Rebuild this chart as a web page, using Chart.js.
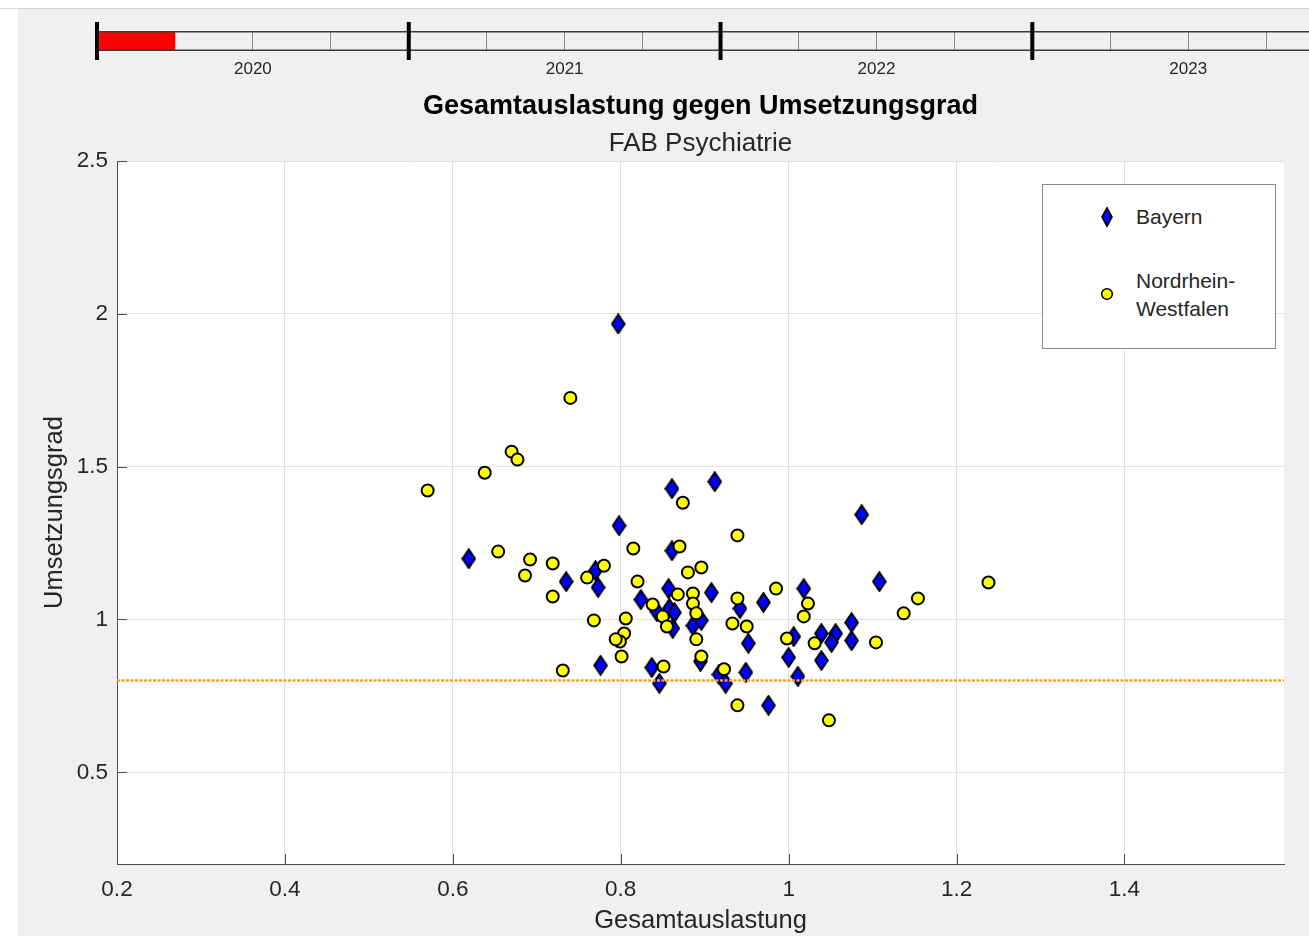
<!DOCTYPE html>
<html lang="de">
<head>
<meta charset="utf-8">
<title>Gesamtauslastung gegen Umsetzungsgrad</title>
<script src="https://cdn.jsdelivr.net/npm/chart.js"></script>
<style>
  html, body { margin: 0; padding: 0; }
  body { width: 1309px; height: 936px; background: #f0f0f0; position: relative; overflow: hidden; font-family: "Liberation Sans", Arial, sans-serif; }
  #topStrip { position: absolute; left: 0; top: 0; width: 1309px; height: 8px; background: #fff; border-bottom: 1px solid #d4d4d4; }
  #leftStrip { position: absolute; left: 0; top: 9px; width: 18px; height: 927px; background: #fff; }
  #mainChart { position: absolute; left: 0; top: 0; z-index: 1; }
  #timeline { position: absolute; left: 0; top: 0; z-index: 2; }
  #legend { position: absolute; left: 1042px; top: 184px; width: 232px; height: 163px; background: #fff; border: 1px solid #8c8c8c; z-index: 3; color: #262626; font-size: 21px; }
  #legend svg { position: absolute; }
  #legend span { position: absolute; left: 93px; line-height: 28px; }
</style>
</head>
<body>
<div id="topStrip"></div>
<div id="leftStrip"></div>
<canvas id="mainChart" width="1309" height="936"></canvas>
<canvas id="timeline" width="1309" height="80"></canvas>
<div id="legend">
  <svg width="16" height="22" style="left:56px; top:21px"><polygon points="8,2 13,11 8,20 3,11" fill="#0000ff" stroke="#000" stroke-width="1.6"/></svg>
  <span style="top:18px">Bayern</span>
  <svg width="16" height="16" style="left:56px; top:101px"><circle cx="8" cy="8" r="5.3" fill="#ffff00" stroke="#000" stroke-width="1.6"/></svg>
  <span style="top:82px">Nordrhein-<br>Westfalen</span>
</div>

<script>
// Daten
const bayernX = [0.797, 0.619, 0.735, 0.770, 0.773, 0.798, 0.861, 0.912, 0.861, 0.857,
                 0.824, 0.858, 0.843, 0.864, 0.862, 0.886, 0.896, 0.908, 0.776, 0.837,
                 0.846, 0.895, 0.917, 0.925, 0.942, 0.970, 0.952, 0.949, 0.976, 1.018,
                 1.006, 1.000, 1.011, 1.039, 1.056, 1.051, 1.039, 1.075, 1.075, 1.087,
                 1.108];
const bayernY = [1.967, 1.199, 1.124, 1.160, 1.105, 1.307, 1.428, 1.451, 1.225, 1.101,
                 1.065, 1.036, 1.026, 1.023, 0.971, 0.980, 0.997, 1.088, 0.850, 0.843,
                 0.791, 0.863, 0.820, 0.791, 1.036, 1.056, 0.922, 0.827, 0.719, 1.101,
                 0.944, 0.876, 0.814, 0.954, 0.954, 0.925, 0.866, 0.990, 0.931, 1.343,
                 1.124];

const nrwX = [0.570, 0.638, 0.670, 0.677, 0.740, 0.654, 0.692, 0.686, 0.719, 0.719,
              0.760, 0.780, 0.815, 0.820, 0.874, 0.870, 0.880, 0.896, 0.868, 0.886,
              0.886, 0.890, 0.838, 0.850, 0.855, 0.768, 0.806, 0.804, 0.799, 0.794,
              0.801, 0.731, 0.851, 0.890, 0.896, 0.923, 0.939, 0.933, 0.939, 0.939,
              0.985, 0.950, 0.998, 1.023, 1.018, 1.031, 1.104, 1.048, 1.137, 1.154,
              1.238];
const nrwY = [1.422, 1.480, 1.549, 1.523, 1.725, 1.222, 1.196, 1.144, 1.183, 1.075,
              1.137, 1.176, 1.232, 1.124, 1.382, 1.239, 1.154, 1.170, 1.082, 1.085,
              1.052, 1.020, 1.049, 1.010, 0.977, 0.997, 1.003, 0.954, 0.928, 0.935,
              0.879, 0.833, 0.846, 0.935, 0.879, 0.837, 1.275, 0.987, 1.069, 0.719,
              1.101, 0.977, 0.938, 1.052, 1.010, 0.922, 0.925, 0.670, 1.020, 1.069,
              1.121];

const schwelle = 0.8;
const xRange = [0.2, 1.59];
const yRange = [0.2, 2.5];
const xTicks = [0.2, 0.4, 0.6, 0.8, 1.0, 1.2, 1.4];
const yTicks = [0.5, 1.0, 1.5, 2.0, 2.5];

// Zeitleiste oben (Quartale)
const years = ['2020', '2021', '2022', '2023'];
const quarterTicks = [0, 1, 2, 3, 4, 5, 6, 7, 8, 9, 10, 11, 12, 13, 14, 15];
const yearBounds = [0, 4, 8, 12];
const progress = [0, 1];
const quarterMax = 15.55;

const FONT = '"Liberation Sans", Arial, sans-serif';
const AXIS_COLOR = '#4d4d4d';
const TEXT_COLOR = '#262626';

document.addEventListener('DOMContentLoaded', () => {

  // Raute wie in MATLAB (hoeher als breit)
  const diamond = document.createElement('canvas');
  diamond.width = 15;
  diamond.height = 21;
  const dctx = diamond.getContext('2d');
  dctx.beginPath();
  dctx.moveTo(7.5, 1.2);
  dctx.lineTo(13.8, 10.5);
  dctx.lineTo(7.5, 19.8);
  dctx.lineTo(1.2, 10.5);
  dctx.closePath();
  dctx.fillStyle = '#0000ff';
  dctx.fill();
  dctx.lineWidth = 2;
  dctx.strokeStyle = '#000';
  dctx.stroke();

  // weisser Plotbereich + Tickmarken nach innen
  const plotArea = {
    id: 'plotArea',
    beforeDraw(chart) {
      const { ctx, chartArea: a } = chart;
      ctx.save();
      ctx.fillStyle = '#fff';
      ctx.fillRect(a.left, a.top, a.right - a.left, a.bottom - a.top);
      ctx.restore();
    },
    beforeDatasetsDraw(chart) {
      const { ctx, chartArea: a, scales } = chart;
      ctx.save();
      ctx.strokeStyle = AXIS_COLOR;
      ctx.lineWidth = 1;
      ctx.beginPath();
      xTicks.forEach(v => {
        const px = Math.round(scales.x.getPixelForValue(v)) + 0.5;
        ctx.moveTo(px, a.bottom);
        ctx.lineTo(px, a.bottom - 10);
      });
      yTicks.forEach(v => {
        const py = Math.round(scales.y.getPixelForValue(v)) + 0.5;
        ctx.moveTo(a.left, py);
        ctx.lineTo(a.left + 10, py);
      });
      ctx.stroke();
      ctx.restore();
    }
  };

  const mainChart = new Chart(document.getElementById('mainChart'), {
    data: {
      datasets: [
        {
          type: 'scatter',
          label: 'Bayern',
          data: bayernX.map((x, i) => ({ x: x, y: bayernY[i] })),
          pointStyle: diamond,
          order: 2
        },
        {
          type: 'scatter',
          label: 'Nordrhein-Westfalen',
          data: nrwX.map((x, i) => ({ x: x, y: nrwY[i] })),
          pointStyle: 'circle',
          pointRadius: 6,
          pointBackgroundColor: '#ffff00',
          pointBorderColor: '#000',
          pointBorderWidth: 2,
          order: 1
        },
        {
          type: 'line',
          label: 'Schwelle',
          data: [{ x: xRange[0], y: schwelle }, { x: xRange[1], y: schwelle }],
          borderColor: '#ffa01e',
          borderWidth: 2.5,
          borderDash: [3, 1.5],
          pointRadius: 0,
          order: 0
        }
      ]
    },
    options: {
      responsive: false,
      animation: false,
      events: [],
      layout: { padding: { left: 0, right: 25, top: 90.8, bottom: 0 } },
      plugins: {
        legend: { display: false },
        tooltip: { enabled: false },
        title: {
          display: true,
          fullSize: false,
          text: 'Gesamtauslastung gegen Umsetzungsgrad',
          color: '#000',
          font: { family: FONT, size: 27, weight: 'bold' },
          padding: { top: 0, bottom: 5 }
        },
        subtitle: {
          display: true,
          fullSize: false,
          text: 'FAB Psychiatrie',
          color: TEXT_COLOR,
          font: { family: FONT, size: 26 },
          padding: { top: 0, bottom: 1.6 }
        }
      },
      scales: {
        x: {
          type: 'linear',
          min: xRange[0],
          max: xRange[1],
          afterBuildTicks: s => { s.ticks = xTicks.map(v => ({ value: v })); },
          afterFit: s => { s.height = 72; },
          grid: { color: '#e1e1e1', drawTicks: false },
          border: { color: AXIS_COLOR, width: 1 },
          ticks: {
            padding: 12,
            color: TEXT_COLOR,
            maxRotation: 0,
            font: { family: FONT, size: 22.5 },
            callback: v => String(Math.round(v * 10) / 10)
          },
          title: {
            display: true,
            text: 'Gesamtauslastung',
            color: TEXT_COLOR,
            font: { family: FONT, size: 25.5 },
            padding: { top: 0, bottom: 0 }
          }
        },
        y: {
          type: 'linear',
          min: yRange[0],
          max: yRange[1],
          afterBuildTicks: s => { s.ticks = yTicks.map(v => ({ value: v })); },
          afterFit: s => { s.width = 117; },
          grid: { color: '#e1e1e1', drawTicks: false },
          border: { color: AXIS_COLOR, width: 1 },
          ticks: {
            padding: 9,
            color: TEXT_COLOR,
            font: { family: FONT, size: 22.5 },
            callback: v => String(Math.round(v * 10) / 10)
          },
          title: {
            display: true,
            text: 'Umsetzungsgrad',
            color: TEXT_COLOR,
            font: { family: FONT, size: 25.5 },
            padding: { top: 40, bottom: 0 }
          }
        }
      }
    },
    plugins: [plotArea]
  });

  //-----------------------------------------------------------------
  // Zeitleiste: Rahmen und dicke Jahresstriche
  const timelineFrame = {
    id: 'timelineFrame',
    afterDraw(chart) {
      const { ctx, chartArea: a, scales } = chart;
      ctx.save();
      ctx.strokeStyle = '#3c3c3c';
      ctx.lineWidth = 1.5;
      ctx.beginPath();
      ctx.moveTo(a.left, a.top + 0.75);
      ctx.lineTo(a.right, a.top + 0.75);
      ctx.moveTo(a.left, a.bottom - 0.75);
      ctx.lineTo(a.right, a.bottom - 0.75);
      ctx.stroke();
      ctx.strokeStyle = '#000';
      ctx.lineWidth = 4;
      yearBounds.forEach(v => {
        const px = scales.x.getPixelForValue(v);
        ctx.beginPath();
        ctx.moveTo(px, a.top - 9);
        ctx.lineTo(px, a.bottom + 9);
        ctx.stroke();
      });
      ctx.restore();
    }
  };

  const timeline = new Chart(document.getElementById('timeline'), {
    type: 'bar',
    data: {
      labels: ['Fortschritt'],
      datasets: [{
        data: [progress],
        backgroundColor: '#ff0000',
        borderWidth: 0,
        barPercentage: 1,
        categoryPercentage: 1
      }]
    },
    options: {
      indexAxis: 'y',
      responsive: false,
      animation: false,
      events: [],
      layout: { padding: { left: 97, right: 0, top: 31, bottom: 0 } },
      plugins: {
        legend: { display: false },
        tooltip: { enabled: false }
      },
      scales: {
        y: { display: false },
        x: {
          type: 'linear',
          min: 0,
          max: quarterMax,
          afterBuildTicks: s => { s.ticks = quarterTicks.map(v => ({ value: v })); },
          afterFit: s => { s.height = 29; },
          grid: { color: '#8a8a8a', drawTicks: false },
          border: { display: false },
          ticks: {
            autoSkip: false,
            maxRotation: 0,
            padding: 8,
            color: TEXT_COLOR,
            font: { family: FONT, size: 17 },
            callback: v => (v % 4 === 2 ? years[(v - 2) / 4] : '')
          }
        }
      }
    },
    plugins: [timelineFrame]
  });

});
</script>
</body>
</html>
